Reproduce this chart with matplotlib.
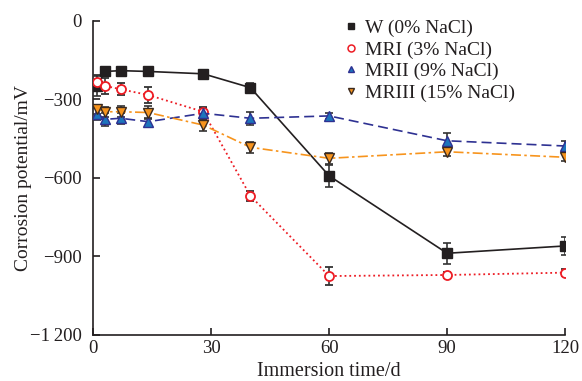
import matplotlib
matplotlib.use("Agg")
import matplotlib.pyplot as plt

plt.rcParams['font.family'] = ['Liberation Serif', 'DejaVu Serif']
plt.rcParams['mathtext.fontset'] = 'stix'

days = [1, 3, 7, 14, 28, 40, 60, 90, 120]

w_vals = [-250, -193, -190, -193, -202, -255, -592, -888, -860]
w_err = [38, 15, 10, 12, 12, 19, 42, 40, 36]

mri_vals = [-232, -248, -261, -283, -347, -669, -975, -971, -962]
mri_err = [25, 30, 22, 29, 20, 18, 35, 12, 12]

mrii_vals = [-355, -376, -372, -385, -353, -372, -363, -458, -478]
mrii_err = [22, 25, 22, 15, 20, 25, 10, 29, 20]

mriii_vals = [-338, -347, -347, -350, -398, -483, -525, -500, -521]
mriii_err = [18, 20, 22, 25, 22, 20, 22, 15, 15]

labels = ["W (0% NaCl)", "MRI (3% NaCl)", "MRII (9% NaCl)", "MRIII (15% NaCl)"]
yticks = [0, -300, -600, -900, -1200]
ytick_labels = ["0", "\u2212300", "\u2212600", "\u2212900", "\u22121\u2009200"]
xticks = [0, 30, 60, 90, 120]

fig = plt.figure(figsize=(5.82, 3.81), dpi=100)
ax = fig.add_axes([0.16, 0.121, 0.811, 0.824])

err_kw = dict(ecolor='#333333', elinewidth=1.2, capsize=3, capthick=1.2)

h1 = ax.errorbar(days, w_vals, yerr=w_err, color='#231f20', ls='-', lw=1.2,
                 marker='s', ms=6.5, mfc='#231f20', mec='#231f20', zorder=3, **err_kw)
h2 = ax.errorbar(days, mri_vals, yerr=mri_err, color='#ed1c24', ls=':', lw=1.3,
                 marker='o', ms=6.5, mfc='white', mec='#ed1c24', mew=1.3, zorder=3, **err_kw)
h3 = ax.errorbar(days, mrii_vals, yerr=mrii_err, color='#2e3192', ls=(0, (6, 3)), lw=1.2,
                 marker='^', ms=6.5, mfc='#1c75bc', mec='#2e3192', zorder=3, **err_kw)
h4 = ax.errorbar(days, mriii_vals, yerr=mriii_err, color='#f7941d', ls=(0, (6, 2, 1.5, 2)), lw=1.2,
                 marker='v', ms=6.5, mfc='#f7941d', mec='#3c2a1e', zorder=3, **err_kw)

ax.set_xlim(0, 120)
ax.set_ylim(-1200, 0)
ax.set_xticks(xticks)
ax.set_yticks(yticks)
ax.set_yticklabels(ytick_labels)
ax.spines['top'].set_visible(False)
ax.spines['right'].set_visible(False)
for s in ['left', 'bottom']:
    ax.spines[s].set_linewidth(1.2)
    ax.spines[s].set_color('#231f20')
ax.tick_params(direction='in', length=5, width=1.2, labelsize=13.5, colors='#231f20')
ax.tick_params(axis='y', pad=8)
ax.tick_params(axis='x', pad=4)
ax.set_xlabel("Immersion time/d", fontsize=14.5, labelpad=3, color='#231f20')
ax.set_ylabel("Corrosion potential/mV", fontsize=14, labelpad=-1, color='#231f20')

from matplotlib.lines import Line2D
handles = [
    Line2D([], [], ls='none', marker='s', ms=5, mfc='#231f20', mec='#231f20'),
    Line2D([], [], ls='none', marker='o', ms=5, mfc='white', mec='#ed1c24', mew=1.1),
    Line2D([], [], ls='none', marker='^', ms=5, mfc='#1c75bc', mec='#2e3192'),
    Line2D([], [], ls='none', marker='v', ms=5, mfc='#f7941d', mec='#3c2a1e'),
]
leg = ax.legend(handles, labels, loc='upper left', bbox_to_anchor=(0.567, 0.99),
                bbox_transform=fig.transFigure, frameon=False, fontsize=14,
                handlelength=0.6, handletextpad=0.4, labelspacing=0.2, borderpad=0.3)
for t in leg.get_texts():
    t.set_color('#231f20')

fig.savefig("out.png", dpi=100)
